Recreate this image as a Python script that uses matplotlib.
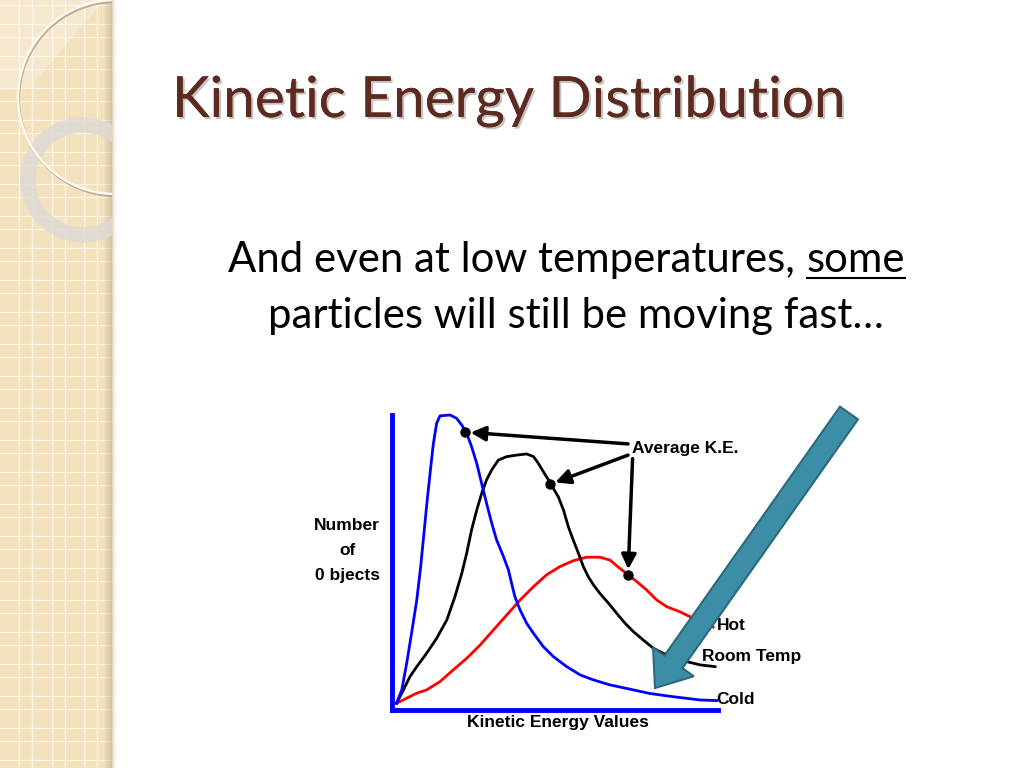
import matplotlib
matplotlib.use("Agg")
import matplotlib.pyplot as plt
import matplotlib.patches as mpatches
import matplotlib.patheffects as pe

# кривые (условные единицы 0..100)
cold_x = [1.4, 3.0, 4.5, 6.0, 7.6, 8.8, 9.8, 10.8, 11.9, 12.7, 13.7, 14.7, 17.8,
          19.8, 21.4, 22.9, 24.4, 26.0, 27.5, 29.0, 30.6, 32.1, 34.2, 35.7, 36.7,
          37.7, 39.3, 41.3, 43.4, 46.4, 49.5, 53.6, 57.7, 61.8, 66.9, 72.0, 79.1,
          86.3, 94.5, 99.6]
cold_y = [2.3, 6.8, 15.8, 26.0, 37.3, 48.6, 59.9, 71.2, 82.5, 90.4, 97.2, 99.7, 100,
          98.9, 96.6, 93.8, 89.3, 83.6, 76.8, 70.1, 63.3, 57.6, 52.0, 47.5, 42.9,
          38.4, 33.9, 29.4, 26.0, 21.5, 18.1, 14.7, 11.9, 10.2, 8.5, 7.3, 5.6,
          4.5, 3.4, 3.2]
room_x = [1.4, 3.5, 5.5, 7.6, 10.6, 13.7, 16.8, 19.3, 21.4, 22.9, 24.4, 26.0, 27.5,
          29.0, 30.6, 32.6, 35.2, 38.2, 41.3, 43.4, 44.9, 46.4, 48.0, 49.5, 51.0,
          52.6, 54.1, 55.6, 57.2, 58.7, 60.2, 61.8, 63.8, 66.4, 68.9, 71.5, 74.0,
          77.1, 80.2, 83.2, 86.3, 90.4, 94.5, 99.1]
room_y = [2.3, 6.8, 11.3, 14.7, 19.2, 24.3, 30.5, 38.4, 46.3, 53.1, 61.0, 67.8, 73.4,
          78.0, 81.4, 84.7, 85.9, 86.4, 86.8, 85.9, 83.6, 80.8, 78.0, 75.1, 72.3,
          67.8, 62.1, 57.6, 53.1, 48.6, 45.2, 42.4, 39.5, 36.2, 32.8, 29.4, 26.6,
          23.7, 20.9, 19.2, 18.1, 16.4, 15.3, 14.7]
hot_x = [1.4, 4.5, 7.6, 10.6, 14.7, 18.8, 22.9, 27.0, 31.1, 35.2, 39.3, 43.4, 47.4,
         51.5, 55.6, 59.7, 63.8, 66.9, 69.9, 72.5, 75.1, 78.1, 81.2, 84.3, 88.3,
         92.4, 98.5]
hot_y = [2.3, 4.0, 5.7, 6.8, 9.6, 13.6, 17.5, 22.0, 27.1, 32.2, 37.3, 41.8, 45.8,
         48.6, 50.6, 51.8, 51.8, 50.8, 48.0, 45.8, 43.5, 40.7, 37.3, 35.0, 33.3,
         31.1, 28.1]
# средняя кинетическая энергия (точки)
avg_x = [22.4, 48.5, 72.4]
avg_y = [94.2, 76.5, 45.8]

curve_labels = ["Hot", "Room Temp", "Cold"]

title = "Kinetic Energy Distribution"
line1 = "And even at low temperatures,"
line1_u = "some"
line2 = "particles will still be moving fast\u2026"

chart_font = ["Liberation Sans", "DejaVu Sans"]
cfs = 12.5

fig = plt.figure(figsize=(10.24, 7.68), dpi=100)
fig.patch.set_facecolor("white")

# фон слайда в пикселях
bg = fig.add_axes([0, 0, 1, 1], zorder=0)
bg.set_xlim(0, 1024)
bg.set_ylim(768, 0)
bg.axis("off")

# бежевая полоса слева
strip = mpatches.Rectangle((0, 0), 112, 768, color="#f2e1bb", zorder=1)
bg.add_patch(strip)
for k in range(25):
    for off in (5, 24):
        bg.plot([0, 112], [off + 32 * k] * 2, color="#fbf4e4", lw=1.0, zorder=2)
for k in range(4):
    for off in (19, 32):
        x = off + 32.5 * k
        if x < 112:
            bg.plot([x, x], [0, 768], color="#fbf4e4", lw=1.0, zorder=2)
# тень у края полосы
for i in range(8):
    bg.add_patch(mpatches.Rectangle((104 + i, 0), 1, 768, color="#a89a80",
                                    alpha=0.06 + 0.05 * i, lw=0, zorder=3))
for i in range(5):
    bg.add_patch(mpatches.Rectangle((112 + i, 0), 1, 768, color="#b0aca0",
                                    alpha=0.25 - 0.05 * i, lw=0, zorder=3))
# светлый клин сверху
light = mpatches.Polygon([(0, 0), (105, 0), (70, 40), (30, 88), (0, 90)],
                         closed=True, color="white", alpha=0.25, lw=0, zorder=2)
bg.add_patch(light)
light.set_clip_path(strip)
# кольца
ring = mpatches.Circle((83, 180), 55, fill=False, ec="#dddbd4", lw=11, alpha=0.85, zorder=4)
bg.add_patch(ring)
ring.set_clip_path(strip)
c_sh = mpatches.Circle((116, 99), 97, fill=False, ec="#a8977a", lw=1.6, alpha=0.7, zorder=5)
bg.add_patch(c_sh)
c_sh.set_clip_path(strip)
c1 = mpatches.Circle((115, 97), 97, fill=False, ec="#fdf9ef", lw=1.8, zorder=6)
bg.add_patch(c1)
c1.set_clip_path(strip)

# заголовок и текст
r = fig.canvas.get_renderer()


def fit(t, width):
    w = t.get_window_extent(r).width
    t.set_fontsize(t.get_fontsize() * width / w)


t_title = bg.text(172, 117, title, fontsize=40, family="Lato", color="#5c2a1e",
                  va="baseline", ha="left", zorder=5,
                  path_effects=[pe.withSimplePatchShadow(offset=(1.5, -1.5), alpha=0.25),
                                pe.Normal()])
fit(t_title, 673)

t1 = bg.text(228, 272, line1, fontsize=28, family="Lato", color="black",
             va="baseline", ha="left", zorder=5)
fit(t1, 567)
fs = t1.get_fontsize()
e1 = t1.get_window_extent(r)
t_u = bg.text(e1.x1 + 12, 272, line1_u, fontsize=fs, family="Lato", color="black",
              va="baseline", ha="left", zorder=5)
eu = t_u.get_window_extent(r)
bg.plot([eu.x0, eu.x1], [278, 278], color="black", lw=1.5, zorder=5)
bg.text(268, 328, line2, fontsize=fs, family="Lato", color="black",
        va="baseline", ha="left", zorder=5)

# сам график
ax = fig.add_axes([392 / 1024, 1 - 710 / 768, 326 / 1024, 295 / 768], zorder=1)
ax.set_facecolor("none")
ax.set_xlim(0, 100)
ax.set_ylim(0, 100)
ax.set_xticks([])
ax.set_yticks([])
for s in ("top", "right"):
    ax.spines[s].set_visible(False)
for s in ("left", "bottom"):
    ax.spines[s].set_color("#0000ff")
    ax.spines[s].set_linewidth(3.5)

ax.plot(hot_x, hot_y, color="#ff0000", lw=2, clip_on=False)
ax.plot(room_x, room_y, color="black", lw=2, clip_on=False)
ax.plot(cold_x, cold_y, color="#0000ff", lw=2, clip_on=False)
ax.plot(avg_x, avg_y, "o", color="black", ms=6.5, clip_on=False, zorder=5)

ax.text(73.6, 88.5, "Average K.E.", family=chart_font, fontweight="bold",
        fontsize=cfs, va="center", ha="left")
for (ax_x, ax_y), (sx, sy) in zip(zip(avg_x, avg_y), [(72.4, 90.2), (72.4, 86.4), (73.8, 85.2)]):
    ax.annotate("", xy=(ax_x, ax_y), xytext=(sx, sy),
                arrowprops=dict(arrowstyle="-|>", color="black", lw=2.5,
                                mutation_scale=22, shrinkA=0, shrinkB=4),
                annotation_clip=False)

lab_pos = [(99.7, 28.8), (95.1, 18.0), (99.4, 3.7)]
for lab, (lx, ly) in zip(curve_labels, lab_pos):
    ax.text(lx, ly, lab, family=chart_font, fontweight="bold", fontsize=cfs,
            va="center", ha="left", clip_on=False)

ax.text(50.9, -4.3, "Kinetic Energy Values", family=chart_font, fontweight="bold",
        fontsize=cfs, va="center", ha="center")
ax.text(-13.8, 54.0, "Number\nof\n0 bjects", family=chart_font, fontweight="bold",
        fontsize=cfs, va="center", ha="center", linespacing=1.85)

# бирюзовая стрелка поверх графика
ov = fig.add_axes([0, 0, 1, 1], zorder=2)
ov.set_facecolor("none")
ov.set_xlim(0, 1024)
ov.set_ylim(768, 0)
ov.axis("off")
arr = mpatches.FancyArrow(849, 413, 655 - 849, 688 - 413, width=22, head_width=50,
                          head_length=32, length_includes_head=True,
                          fc="#3b8ea6", ec="#2a6a7c", lw=1.5)
ov.add_patch(arr)

fig.savefig("out.png", dpi=100)
